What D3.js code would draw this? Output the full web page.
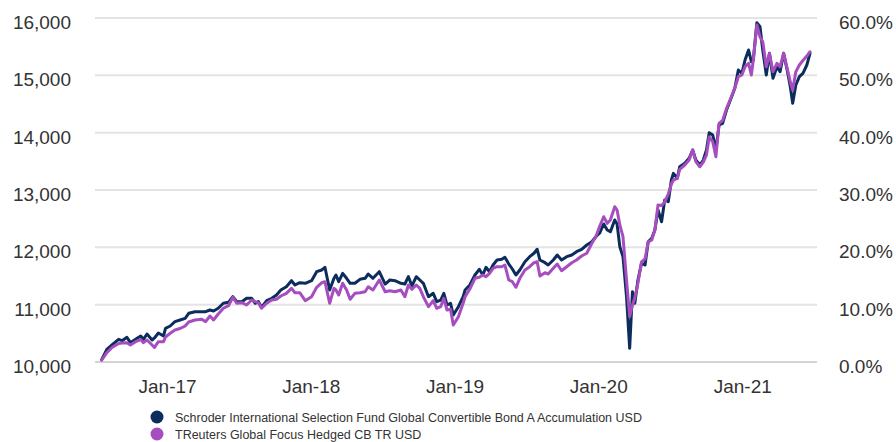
<!DOCTYPE html>
<html>
<head>
<meta charset="utf-8">
<script src="https://cdn.jsdelivr.net/npm/d3@7"></script>
<style>
  body { margin: 0; background: #fff; }
  svg { display: block; font-family: "Liberation Sans", Arial, sans-serif; }
</style>
</head>
<body>
<div id="chart"></div>
<script>
// data (growth of 10,000)
var dates = [
  "2016-07-19","2016-08-01","2016-08-14","2016-08-31","2016-09-09","2016-09-21","2016-09-30","2016-10-13","2016-10-26","2016-11-02",
  "2016-11-11","2016-11-24","2016-11-30","2016-12-10","2016-12-23","2016-12-28","2017-01-09","2017-01-21","2017-02-03","2017-02-16",
  "2017-02-25","2017-03-13","2017-03-30","2017-04-09","2017-04-20","2017-04-29","2017-05-11","2017-05-24","2017-06-06","2017-06-17",
  "2017-06-27","2017-07-10","2017-07-22","2017-08-04","2017-08-13","2017-08-21","2017-08-29","2017-09-11","2017-09-24","2017-10-06",
  "2017-10-17","2017-10-31","2017-11-13","2017-11-22","2017-12-04","2017-12-18","2018-01-03","2018-01-16","2018-01-29","2018-02-06",
  "2018-02-18","2018-03-01","2018-03-06","2018-03-13","2018-03-23","2018-04-02","2018-04-11","2018-04-23","2018-05-06","2018-05-19",
  "2018-05-27","2018-06-08","2018-06-24","2018-07-09","2018-07-21","2018-08-03","2018-08-18","2018-08-28","2018-09-06","2018-09-15",
  "2018-09-26","2018-10-05","2018-10-14","2018-10-27","2018-11-08","2018-11-17","2018-11-27","2018-12-05","2018-12-13","2018-12-22",
  "2018-12-29","2019-01-11","2019-01-23","2019-01-28","2019-02-09","2019-02-22","2019-03-05","2019-03-14","2019-03-22","2019-03-31",
  "2019-04-09","2019-04-19","2019-05-01","2019-05-09","2019-05-19","2019-05-28","2019-06-06","2019-06-16","2019-06-29","2019-07-11",
  "2019-07-22","2019-07-30","2019-08-06","2019-08-19","2019-08-27","2019-09-09","2019-09-19","2019-09-30","2019-10-13","2019-10-26",
  "2019-11-07","2019-11-20","2019-12-03","2019-12-16","2019-12-26","2020-01-05","2020-01-15","2020-01-24","2020-02-01","2020-02-12",
  "2020-02-18","2020-02-25","2020-03-04","2020-03-13","2020-03-21","2020-03-28","2020-04-03","2020-04-11","2020-04-20","2020-04-29",
  "2020-05-07","2020-05-16","2020-05-24","2020-06-01","2020-06-10","2020-06-18","2020-06-27","2020-07-05","2020-07-10","2020-07-20",
  "2020-07-26","2020-08-08","2020-08-19","2020-08-28","2020-09-05","2020-09-15","2020-09-24","2020-10-02","2020-10-09","2020-10-18",
  "2020-10-26","2020-11-03","2020-11-12","2020-11-22","2020-12-05","2020-12-13","2020-12-22","2020-12-31","2021-01-08","2021-01-17",
  "2021-01-24","2021-01-29","2021-02-07","2021-02-15","2021-02-22","2021-03-03","2021-03-11","2021-03-20","2021-03-30","2021-04-07",
  "2021-04-16","2021-04-25","2021-05-03","2021-05-09","2021-05-17","2021-05-26","2021-06-04","2021-06-14","2021-06-22"
];

var fundValues = [
  10040,10221,10297,10396,10372,10431,10337,10396,10453,10396,
  10488,10384,10419,10506,10453,10588,10628,10703,10733,10762,
  10849,10877,10877,10877,10907,10890,10937,11024,11041,11139,
  11052,11052,11111,11111,11024,11052,10954,11069,11111,11169,
  11256,11313,11418,11343,11383,11373,11418,11575,11605,11652,
  11256,11460,11517,11401,11547,11460,11373,11373,11442,11460,
  11535,11460,11575,11360,11430,11418,11373,11360,11488,11326,
  11488,11430,11373,11139,11198,11052,11081,11198,10994,11024,
  10820,10965,11139,11256,11343,11517,11617,11517,11652,11575,
  11692,11779,11791,11826,11709,11622,11517,11605,11749,11837,
  11896,11966,11779,11732,11692,11779,11866,11779,11837,11866,
  11924,11966,12041,12098,12185,12250,12407,12302,12273,12477,
  12407,12011,11837,11139,10239,11226,11024,11430,11721,11692,
  12098,12158,12302,12651,12447,12826,12796,13174,13291,13204,
  13406,13466,13553,13698,13523,13436,13523,13698,13999,13959,
  13698,14134,14163,14395,14627,14774,15093,15035,15267,15442,
  15238,15267,15918,15848,15442,15006,15384,14948,15151,15063,
  15384,15093,14802,14512,14831,14976,15035,15180,15384
];

var indexValues = [
  10030,10162,10253,10323,10331,10337,10297,10354,10392,10337,
  10384,10297,10256,10354,10354,10436,10501,10558,10584,10628,
  10698,10733,10745,10703,10802,10733,10837,10937,10982,11128,
  11024,11034,10994,11081,11055,11029,10937,11024,11081,11094,
  11151,11198,11285,11209,11209,11069,11139,11303,11383,11401,
  11024,11285,11256,11169,11373,11256,11094,11198,11209,11226,
  11313,11256,11430,11226,11244,11226,11256,11139,11343,11268,
  11343,11285,11139,10965,11069,10937,10965,11111,10907,10919,
  10645,10790,11024,11139,11273,11460,11477,11517,11488,11547,
  11634,11662,11662,11692,11430,11401,11303,11460,11605,11662,
  11732,11749,11500,11558,11535,11634,11709,11592,11662,11732,
  11779,11849,11896,12070,12185,12372,12534,12419,12477,12709,
  12651,12390,12185,11430,10790,10994,11116,11378,11744,11797,
  12093,12128,12302,12738,12730,12791,12930,13105,13174,13204,
  13361,13436,13523,13698,13494,13406,13488,13610,13924,13842,
  13581,14163,14212,14422,14640,14774,14976,15006,15151,15210,
  15006,15267,15878,15669,15587,15151,15384,15063,15210,15151,
  15384,15123,14884,14744,15063,15180,15259,15337,15412
];

var seriesNames = [
  "Schroder International Selection Fund Global Convertible Bond A Accumulation USD",
  "TReuters Global Focus Hedged CB TR USD"
];
var leftTicks = [10000, 11000, 12000, 13000, 14000, 15000, 16000];
var rightTicks = [0, 10, 20, 30, 40, 50, 60];

var colors = ["#0c2d5c", "#a64dbf"];

var width = 896,
    height = 442,
    margin = { top: 18, right: 79, bottom: 80, left: 95 };

var parseDate = d3.timeParse("%Y-%m-%d");
var series = [fundValues, indexValues].map(function(vals, i) {
    return {
        name: seriesNames[i],
        color: colors[i],
        values: vals.map(function(v, j) { return { date: parseDate(dates[j]), value: v }; })
    };
});

var svg = d3.select("#chart")
    .append("svg")
    .attr("width", width)
    .attr("height", height);

var plotLeft = margin.left,
    plotRight = width - margin.right,
    plotTop = margin.top,
    plotBottom = height - margin.bottom;

var x = d3.scaleTime()
    .domain(d3.extent(dates, function(d) { return parseDate(d); }))
    .range([plotLeft + 6.7, plotRight - 7]);

var y = d3.scaleLinear()
    .domain([10000, 16000])
    .range([plotBottom, plotTop]);

var yRight = d3.scaleLinear()
    .domain([0, 60])
    .range([plotBottom, plotTop]);

// gridlines
svg.append("g")
    .selectAll("line")
    .data(leftTicks)
    .enter().append("line")
    .attr("x1", plotLeft)
    .attr("x2", plotRight)
    .attr("y1", function(d) { return y(d); })
    .attr("y2", function(d) { return y(d); })
    .attr("stroke", function(d) { return d === 10000 ? "#d4d4d4" : "#e4e4e4"; })
    .attr("stroke-width", 2);

// left axis
var leftAxis = svg.append("g")
    .attr("transform", "translate(" + plotLeft + ",0)")
    .call(d3.axisLeft(y).tickValues(leftTicks).tickFormat(d3.format(",")).tickSize(0).tickPadding(24));

// right axis
var rightAxis = svg.append("g")
    .attr("transform", "translate(" + plotRight + ",0)")
    .call(d3.axisRight(yRight).tickValues(rightTicks).tickFormat(function(d) { return d.toFixed(1) + "%"; }).tickSize(0).tickPadding(22));

// bottom axis
var bottomAxis = svg.append("g")
    .attr("transform", "translate(0," + plotBottom + ")")
    .call(d3.axisBottom(x).ticks(d3.timeYear.every(1)).tickFormat(d3.timeFormat("%b-%y")).tickSize(0).tickPadding(18));

[leftAxis, rightAxis, bottomAxis].forEach(function(ax) {
    ax.select(".domain").remove();
    ax.selectAll("text")
        .attr("fill", "#333")
        .style("font-size", "19px")
        .style("font-family", "'Liberation Sans', Arial, sans-serif");
});
leftAxis.selectAll("text").attr("dy", "0.55em");
rightAxis.selectAll("text").attr("dy", "0.55em");

// lines
var line = d3.line()
    .x(function(d) { return x(d.date); })
    .y(function(d) { return y(d.value); });

svg.selectAll(".series")
    .data(series)
    .enter().append("path")
    .attr("class", "series")
    .attr("d", function(d) { return line(d.values); })
    .attr("fill", "none")
    .attr("stroke", function(d) { return d.color; })
    .attr("stroke-width", 3)
    .attr("stroke-linejoin", "round")
    .attr("stroke-linecap", "round");

// legend
var legend = svg.selectAll(".legend")
    .data(series)
    .enter().append("g")
    .attr("class", "legend")
    .attr("transform", function(d, i) { return "translate(157," + (417 + i * 17) + ")"; });

legend.append("circle")
    .attr("r", 6.5)
    .attr("fill", function(d) { return d.color; });

legend.append("text")
    .attr("x", 18)
    .attr("dy", "0.36em")
    .attr("fill", "#333")
    .style("font-size", "12.5px")
    .text(function(d) { return d.name; });
</script>
</body>
</html>
